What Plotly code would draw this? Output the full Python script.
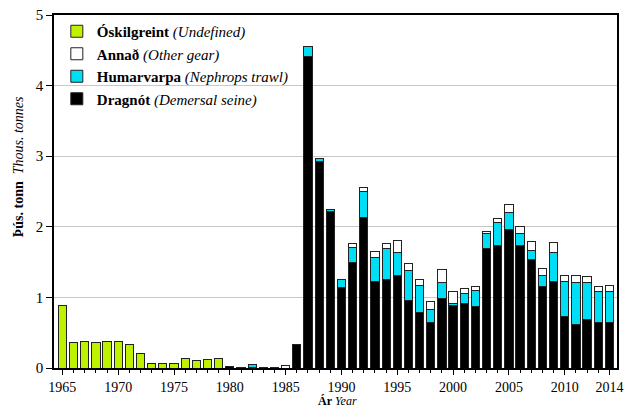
import plotly.graph_objects as go

# Years 1965-2014, thousand tonnes per gear
years = list(range(1965, 2015))

undefined = [0.89, 0.36, 0.38, 0.355, 0.38, 0.38, 0.34, 0.20, 0.057, 0.07,
             0.07, 0.14, 0.11, 0.12, 0.14] + [None] * 35

demersal_seine = [None] * 15 + [
    0.015, 0.005, 0.01, 0.01, 0.01, None, 0.33, 4.41, 2.92, 2.21,
    1.145, 1.49, 2.13, 1.22, 1.26, 1.31, 0.95, 0.79, 0.64, 0.98,
    0.88, 0.92, 0.87, 1.69, 1.73, 1.96, 1.73, 1.53, 1.16, 1.22,
    0.73, 0.62, 0.69, 0.64, 0.64]

nephrops_trawl = [None] * 15 + [
    None, None, 0.04, None, None, None, None, 0.15, 0.05, 0.04,
    0.105, 0.22, 0.37, 0.35, 0.43, 0.33, 0.43, 0.38, 0.19, 0.23,
    0.04, 0.13, 0.23, 0.21, 0.33, 0.24, 0.17, 0.14, 0.15, 0.41,
    0.50, 0.59, 0.52, 0.45, 0.44]

other_gear = [None] * 15 + [
    None, None, None, None, None, 0.03, None, None, None, None,
    None, 0.06, 0.06, 0.08, 0.08, 0.16, 0.10, 0.09, 0.11, 0.19,
    0.17, 0.08, 0.05, 0.04, 0.06, 0.11, 0.11, 0.12, 0.10, 0.15,
    0.08, 0.10, 0.09, 0.06, 0.09]

tick_years = [1965, 1970, 1975, 1980, 1985, 1990, 1995, 2000, 2005, 2010, 2014]

serif = "Liberation Serif, Times New Roman, DejaVu Serif, serif"
line = dict(color="#222222", width=1)

fig = go.Figure()
fig.add_trace(go.Bar(x=years, y=demersal_seine, name="<b>Dragnót</b> <i>(Demersal seine)</i>",
                     marker=dict(color="#000000", line=line), width=0.74))
fig.add_trace(go.Bar(x=years, y=nephrops_trawl, name="<b>Humarvarpa</b> <i>(Nephrops trawl)</i>",
                     marker=dict(color="#00def5", line=line), width=0.74))
fig.add_trace(go.Bar(x=years, y=other_gear, name="<b>Annað</b> <i>(Other gear)</i>",
                     marker=dict(color="#ffffff", line=line), width=0.74))
fig.add_trace(go.Bar(x=years, y=undefined, name="<b>Óskilgreint</b> <i>(Undefined)</i>",
                     marker=dict(color="#bff200", line=line), width=0.74))

fig.update_layout(
    width=630, height=409,
    barmode="stack",
    margin=dict(l=54, r=7, t=14, b=41),
    plot_bgcolor="white", paper_bgcolor="white",
    font=dict(family=serif, size=15, color="black"),
    showlegend=True,
    legend=dict(x=0.005, y=1.0, xanchor="left", yanchor="top", traceorder="reversed",
                bgcolor="rgba(0,0,0,0)", font=dict(size=15), itemwidth=30,
                tracegroupgap=0),
    xaxis=dict(range=[1964.25, 2014.68], tickmode="array", tickvals=tick_years,
               ticks="outside", ticklen=5, tickcolor="black", tickfont=dict(size=14),
               minor=dict(tickvals=years, ticks="outside", ticklen=3, tickcolor="black",
                          showgrid=False),
               showline=True, linecolor="black", linewidth=1.5, mirror=True,
               showgrid=False, zeroline=False),
    yaxis=dict(range=[0, 5], tickvals=[0, 1, 2, 3, 4, 5],
               ticks="outside", ticklen=6, tickcolor="black",
               showline=True, linecolor="black", linewidth=1.5, mirror=True,
               showgrid=True, gridcolor="#c8c8c8", gridwidth=1, zeroline=False),
    annotations=[
        dict(text="<b>Þús. tonn</b>  <i>Thous. tonnes</i>", textangle=-90,
             xref="paper", yref="paper", x=-0.063, y=0.57,
             xanchor="center", yanchor="middle", showarrow=False, font=dict(size=14)),
        dict(text="<b>Ár</b> <i>Year</i>", xref="paper", yref="paper",
             x=0.503, y=-0.1158, xanchor="center", yanchor="bottom",
             showarrow=False, font=dict(size=12), borderpad=0),
    ],
)

fig.write_html("out.html", config={"displayModeBar": False},
               post_script="document.body.style.margin='0px';")
